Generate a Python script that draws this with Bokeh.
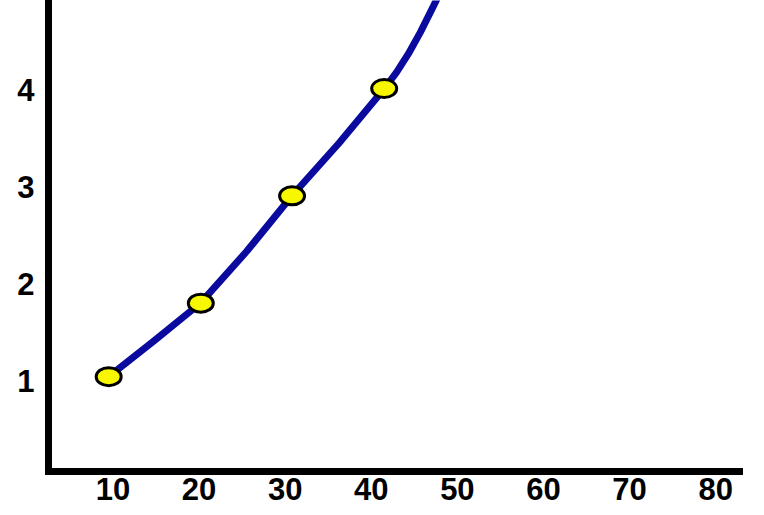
from bokeh.plotting import figure
from bokeh.models import Range1d, FixedTicker
from bokeh.embed import file_html
from bokeh.resources import INLINE

# ticks shown on the axes
x_ticks = [10, 20, 30, 40, 50, 60, 70, 80]
y_ticks = [1, 2, 3, 4]

# measured points (yellow markers)
point_x = [9.5, 20.2, 30.8, 41.5]
point_y = [1.04, 1.80, 2.91, 4.02]

# curve
curve_x = [9.48, 14.82, 20.16, 25.51, 30.81, 36.24, 41.53, 42.93, 44.32, 45.71, 47.22, 48.04]
curve_y = [1.04, 1.414, 1.80, 2.334, 2.913, 3.454, 4.02, 4.187, 4.38, 4.603, 4.872, 5.022]

p = figure(
    width=760, height=512,
    x_range=Range1d(2.51, 82.77), y_range=Range1d(0.059, 4.93),
    output_backend="svg", toolbar_location=None,
    min_border_left=48, min_border_right=21,
    min_border_top=0, min_border_bottom=41)

p.outline_line_color = None
p.grid.visible = False

p.line(curve_x, curve_y, color="#0a0a9e", line_width=7, line_join="round", line_cap="round")
p.ellipse(point_x, point_y, width=25, height=18, width_units="screen", height_units="screen",
          fill_color="#f7f700", line_color="black", line_width=3)

for ax in (p.xaxis[0], p.yaxis[0]):
    ax.axis_line_width = 7
    ax.axis_line_color = "black"
    ax.axis_line_cap = "square"
    ax.major_tick_line_color = None
    ax.minor_tick_line_color = None
    ax.major_tick_out = 0
    ax.major_tick_in = 0
    ax.major_label_text_font = "Liberation Sans"
    ax.major_label_text_font_style = "bold"
    ax.major_label_text_font_size = "31px"
    ax.major_label_text_color = "black"

p.xaxis.ticker = FixedTicker(ticks=x_ticks)
p.yaxis.ticker = FixedTicker(ticks=y_ticks)
p.xaxis.major_label_standoff = 6
p.yaxis.major_label_standoff = 14

open("out.html", "w").write(file_html(p, INLINE))
